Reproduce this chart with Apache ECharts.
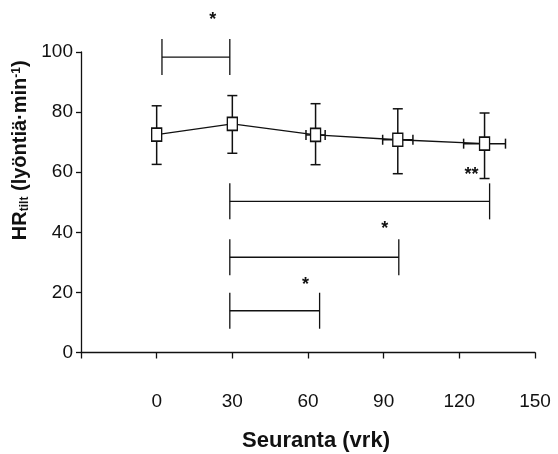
<!DOCTYPE html>
<html>
<head>
<meta charset="utf-8">
<script src="https://cdn.jsdelivr.net/npm/echarts@6/dist/echarts.min.js"></script>
<style>
  html, body { margin: 0; padding: 0; background: #fff; }
  #chart { width: 558px; height: 454px; }
</style>
</head>
<body>
<div id="chart"></div>
<script>
// follow-up days and tilt heart rate (mean, sd)
var days = [0, 30, 63, 95.6, 130]
var dayErr = [0, 1.2, 3.8, 6, 8.3]
var hr = [72.5, 76.1, 72.4, 70.8, 69.5]
var hrUp = [82.1, 85.5, 82.8, 81.1, 79.7]
var hrDown = [62.6, 66.3, 62.5, 59.5, 57.9]

// significance brackets
var bracketFrom = [2.1, 29, 29, 29]
var bracketTo = [29, 132, 96, 64.6]
var bracketLevel = [98.3, 50.3, 31.7, 13.9]
var bracketMark = ['*', '**', '*', '*']
var markDay = [22.2, 124.8, 90.4, 59]
var markLevel = [110.5, 59, 41, 22.4]

var xTicks = [-30, 0, 30, 60, 90, 120, 150]

var ink = '#111'
var chart = echarts.init(document.getElementById('chart'))

function errorBars(params, api) {
  var i = params.dataIndex
  var c = api.coord([days[i], hr[i]])
  var top = api.coord([days[i], hrUp[i]])
  var bot = api.coord([days[i], hrDown[i]])
  var l = api.coord([days[i] - dayErr[i], hr[i]])
  var r = api.coord([days[i] + dayErr[i], hr[i]])
  var st = { stroke: ink, lineWidth: 1.5 }
  var cap = 5
  var kids = [
    { type: 'line', shape: { x1: c[0], y1: top[1], x2: c[0], y2: bot[1] }, style: st },
    { type: 'line', shape: { x1: c[0] - cap, y1: top[1], x2: c[0] + cap, y2: top[1] }, style: st },
    { type: 'line', shape: { x1: c[0] - cap, y1: bot[1], x2: c[0] + cap, y2: bot[1] }, style: st }
  ]
  if (dayErr[i] > 0) {
    kids.push(
      { type: 'line', shape: { x1: l[0], y1: c[1], x2: r[0], y2: c[1] }, style: st },
      { type: 'line', shape: { x1: l[0], y1: c[1] - cap, x2: l[0], y2: c[1] + cap }, style: st },
      { type: 'line', shape: { x1: r[0], y1: c[1] - cap, x2: r[0], y2: c[1] + cap }, style: st }
    )
  }
  return { type: 'group', children: kids }
}

function brackets(params, api) {
  var i = params.dataIndex
  var a = api.coord([bracketFrom[i], bracketLevel[i]])
  var b = api.coord([bracketTo[i], bracketLevel[i]])
  var m = api.coord([markDay[i], markLevel[i]])
  var h = 18
  var st = { stroke: ink, lineWidth: 1.3 }
  return {
    type: 'group',
    children: [
      { type: 'line', shape: { x1: a[0], y1: a[1], x2: b[0], y2: b[1] }, style: st },
      { type: 'line', shape: { x1: a[0], y1: a[1] - h, x2: a[0], y2: a[1] + h }, style: st },
      { type: 'line', shape: { x1: b[0], y1: b[1] - h, x2: b[0], y2: b[1] + h }, style: st },
      {
        type: 'text',
        x: m[0], y: m[1],
        style: {
          text: bracketMark[i], fill: ink,
          font: 'bold 18px "Liberation Sans", Arial, sans-serif',
          align: 'center', verticalAlign: 'middle'
        }
      }
    ]
  }
}

chart.setOption({
  animation: false,
  grid: {
    left: 81,
    right: 23,
    top: 52,
    bottom: 101.5,
    outerBoundsMode: 'none'
  },
  xAxis: {
    type: 'value',
    min: -30,
    max: 150,
    interval: 30,
    name: 'Seuranta (vrk)',
    nameLocation: 'middle',
    nameGap: 77,
    nameTextStyle: {
      color: ink,
      fontWeight: 'bold',
      fontSize: 22,
      fontFamily: 'Liberation Sans',
      padding: [0, 0, 0, 16]
    },
    axisLine: { onZero: false, lineStyle: { color: ink, width: 1.3 } },
    axisTick: { length: 6, lineStyle: { color: ink, width: 1.3 } },
    axisLabel: {
      margin: 40,
      color: ink,
      fontSize: 19,
      fontFamily: 'Liberation Sans',
      formatter: function (v) {
        return xTicks.indexOf(v) > 0 ? String(v) : ''
      }
    },
    splitLine: { show: false }
  },
  yAxis: {
    type: 'value',
    min: 0,
    max: 100,
    interval: 20,
    name: '{b|HR}{s|tilt}{b| (lyöntiä·min}{p|-1}{b|)}',
    nameLocation: 'middle',
    nameGap: 47,
    nameRotate: 90,
    nameTextStyle: {
      color: ink,
      padding: [0, 0, 0, 104],
      rich: {
        b: { fontWeight: 'bold', fontSize: 20, fontFamily: 'Liberation Sans', color: ink },
        s: { fontWeight: 'bold', fontSize: 12, fontFamily: 'Liberation Sans', color: ink, verticalAlign: 'bottom', padding: [8, 0, 0, 0] },
        p: { fontWeight: 'bold', fontSize: 12, fontFamily: 'Liberation Sans', color: ink, verticalAlign: 'top', padding: [0, 0, 8, 0] }
      }
    },
    axisLine: { show: true, onZero: false, lineStyle: { color: ink, width: 1.3 } },
    axisTick: { show: true, length: 5, lineStyle: { color: ink, width: 1.3 } },
    axisLabel: {
      margin: 8,
      color: ink,
      fontSize: 19,
      fontFamily: 'Liberation Sans'
    },
    splitLine: { show: false }
  },
  series: [
    {
      type: 'custom',
      renderItem: brackets,
      data: bracketFrom.map(function (v, i) { return [v, bracketLevel[i]] }),
      z: 1
    },
    {
      type: 'custom',
      renderItem: errorBars,
      data: days.map(function (d, i) { return [d, hr[i]] }),
      z: 2
    },
    {
      type: 'line',
      data: days.map(function (d, i) { return [d, hr[i]] }),
      symbol: 'rect',
      symbolSize: [10, 13],
      showSymbol: true,
      lineStyle: { color: ink, width: 1.3 },
      itemStyle: { color: '#fff', borderColor: ink, borderWidth: 1.5 },
      z: 3
    }
  ]
})
</script>
</body>
</html>
